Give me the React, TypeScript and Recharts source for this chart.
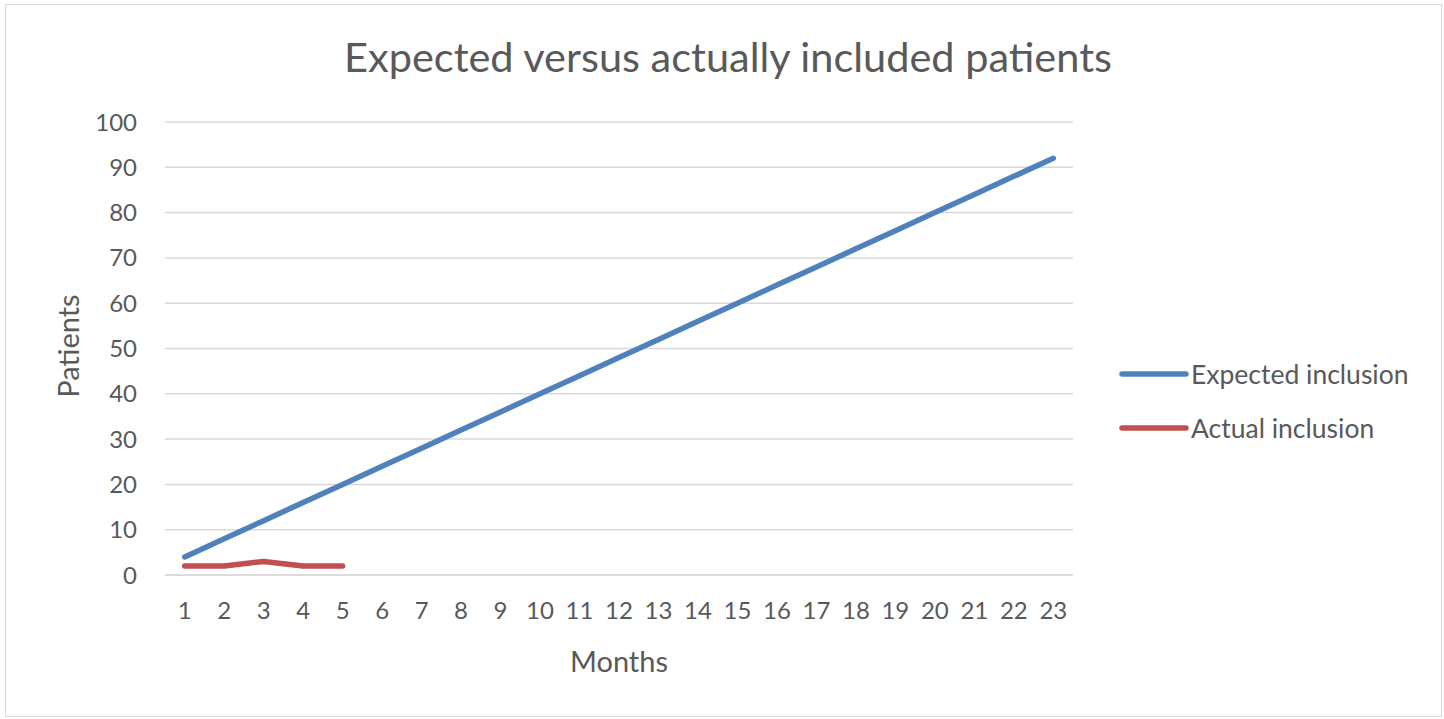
import { LineChart, Line, XAxis, YAxis, CartesianGrid, Label } from "recharts";

const months = [1, 2, 3, 4, 5, 6, 7, 8, 9, 10, 11, 12, 13, 14, 15, 16, 17, 18, 19, 20, 21, 22, 23];
const expectedInclusion = [4, 8, 12, 16, 20, 24, 28, 32, 36, 40, 44, 48, 52, 56, 60, 64, 68, 72, 76, 80, 84, 88, 92];
const actualInclusion = [2, 2, 3, 2, 2];
const yTicks = [0, 10, 20, 30, 40, 50, 60, 70, 80, 90, 100];

const TEXT = "#595959";
const BLUE = "#4F81BD";
const RED = "#C0504D";
const FONT = "Lato, 'Open Sans', sans-serif";

const rows = months.map((m, i) => ({
  month: m,
  expected: expectedInclusion[i],
  actual: i < actualInclusion.length ? actualInclusion[i] : null,
}));

function LegendItem({ color, label }: { color: string; label: string }) {
  return (
    <div style={{ display: "flex", alignItems: "center", height: 32 }}>
      <svg width={70} height={10}>
        <line x1={3} y1={5} x2={67} y2={5} stroke={color} strokeWidth={5.5} strokeLinecap="round" />
      </svg>
      <span style={{ fontSize: 26.5, color: TEXT, marginLeft: 2 }}>{label}</span>
    </div>
  );
}

export default function App() {
  return (
    <div style={{ position: "absolute", left: 0, top: 0, width: 1444, height: 719, background: "#fff", fontFamily: FONT }}>
      <div
        style={{
          position: "absolute",
          left: 5,
          top: 4,
          width: 1435,
          height: 711,
          border: "1.5px solid #D9D9D9",
        }}
      />
      <div
        style={{
          position: "absolute",
          left: 0,
          width: 1444,
          top: 31,
          textAlign: "center",
          fontSize: 41.5,
          color: TEXT,
          paddingLeft: 6,
        }}
      >
        Expected versus actually included patients
      </div>
      <div style={{ position: "absolute", left: 0, top: 0 }}>
        <LineChart width={1444} height={719} data={rows} margin={{ top: 122, right: 371, bottom: 39, left: 105 }}>
          <CartesianGrid vertical={false} stroke="#D9D9D9" strokeWidth={1.5} />
          <XAxis
            dataKey="month"
            padding={{ left: 19.7, right: 19.7 }}
            tickLine={false}
            axisLine={{ stroke: "#D9D9D9", strokeWidth: 1.5 }}
            tickSize={0}
            tickMargin={27}
            height={105}
            interval={0}
            tick={{ fill: TEXT, fontSize: 24, fontFamily: FONT }}
          >
            <Label value="Months" position="insideBottom" offset={8} fill={TEXT} fontSize={29} fontFamily={FONT} />
          </XAxis>
          <YAxis
            domain={[0, 100]}
            ticks={yTicks}
            width={60}
            tickLine={false}
            axisLine={false}
            tickSize={0}
            tickMargin={28}
            tick={{ fill: TEXT, fontSize: 24, fontFamily: FONT }}
          />
          <Line
            dataKey="expected"
            stroke={BLUE}
            strokeWidth={5.5}
            dot={false}
            strokeLinecap="round"
            isAnimationActive={false}
          />
          <Line
            dataKey="actual"
            stroke={RED}
            strokeWidth={5.5}
            dot={false}
            strokeLinecap="round"
            strokeLinejoin="round"
            isAnimationActive={false}
          />
        </LineChart>
      </div>
      <div
        style={{
          position: "absolute",
          left: 67,
          top: 346,
          transform: "translate(-50%, -50%) rotate(-90deg)",
          fontSize: 29,
          color: TEXT,
        }}
      >
        Patients
      </div>
      <div style={{ position: "absolute", left: 1119, top: 358 }}>
        <LegendItem color={BLUE} label="Expected inclusion" />
        <div style={{ height: 22 }} />
        <LegendItem color={RED} label="Actual inclusion" />
      </div>
    </div>
  );
}
